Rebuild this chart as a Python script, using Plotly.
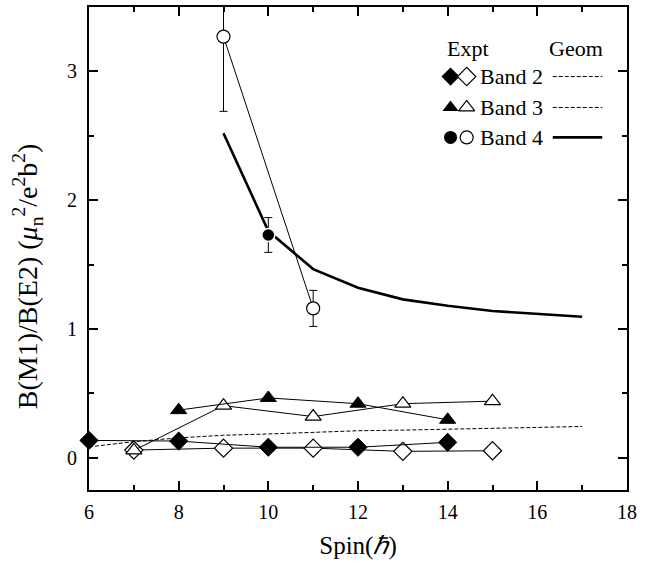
import plotly.graph_objects as go

# ---------------- data ----------------
b2_filled_x = [6, 8, 10, 12, 14]
b2_filled_y = [0.135, 0.13, 0.082, 0.082, 0.12]
b2_open_x = [7, 9, 11, 13, 15]
b2_open_y = [0.06, 0.075, 0.075, 0.05, 0.055]

b3_filled_x = [8, 10, 12, 14]
b3_filled_y = [0.37, 0.465, 0.42, 0.295]
b3_open_x = [7, 9, 11, 13, 15]
b3_open_y = [0.057, 0.405, 0.32, 0.42, 0.44]

b4_filled_x = [10]
b4_filled_y = [1.73]
b4_filled_err = [0.135]
b4_open_x = [9, 11]
b4_open_y = [3.27, 1.16]
b4_open_err_plus = [0.6, 0.14]
b4_open_err_minus = [0.58, 0.14]

geom23_x = [6, 7, 8, 9, 10, 11, 12, 13, 14, 15, 16, 17]
geom23_y = [0.085, 0.125, 0.155, 0.175, 0.185, 0.2, 0.21, 0.215, 0.222, 0.23, 0.237, 0.243]
geom4_x = [9, 10, 11, 12, 13, 14, 15, 16, 17]
geom4_y = [2.52, 1.76, 1.465, 1.32, 1.23, 1.18, 1.14, 1.115, 1.095]

x_ticks = [6, 8, 10, 12, 14, 16, 18]
y_ticks = [0, 1, 2, 3]

FONT = "Liberation Serif"
BLACK = "black"

fig = go.Figure()

# theory curves
fig.add_trace(go.Scatter(x=geom23_x, y=geom23_y, mode="lines",
                         line=dict(color=BLACK, width=1, dash="4px,2px")))
fig.add_trace(go.Scatter(x=geom4_x, y=geom4_y, mode="lines",
                         line=dict(color=BLACK, width=2.6)))

# band 2
fig.add_trace(go.Scatter(x=b2_open_x, y=b2_open_y, mode="lines+markers",
                         line=dict(color=BLACK, width=1),
                         marker=dict(symbol="diamond", size=14, color="white",
                                     line=dict(color=BLACK, width=1.2))))
fig.add_trace(go.Scatter(x=b2_filled_x, y=b2_filled_y, mode="lines+markers",
                         cliponaxis=False,
                         line=dict(color=BLACK, width=1),
                         marker=dict(symbol="diamond", size=14, color=BLACK,
                                     line=dict(color=BLACK, width=1))))
# band 3
fig.add_trace(go.Scatter(x=b3_open_x, y=b3_open_y, mode="lines+markers",
                         line=dict(color=BLACK, width=1),
                         marker=dict(symbol="triangle-up", size=14, color="white",
                                     line=dict(color=BLACK, width=1.2))))
fig.add_trace(go.Scatter(x=b3_filled_x, y=b3_filled_y, mode="lines+markers",
                         line=dict(color=BLACK, width=1),
                         marker=dict(symbol="triangle-up", size=14, color=BLACK,
                                     line=dict(color=BLACK, width=1))))
# band 4
fig.add_trace(go.Scatter(x=b4_open_x, y=b4_open_y, mode="lines+markers",
                         line=dict(color=BLACK, width=1),
                         error_y=dict(type="data", array=b4_open_err_plus,
                                      arrayminus=b4_open_err_minus, color=BLACK,
                                      thickness=1, width=4),
                         marker=dict(symbol="circle", size=13, color="white",
                                     line=dict(color=BLACK, width=1.2))))
fig.add_trace(go.Scatter(x=b4_filled_x, y=b4_filled_y, mode="markers",
                         error_y=dict(type="data", array=b4_filled_err, color=BLACK,
                                      thickness=1, width=4),
                         marker=dict(symbol="circle", size=13, color=BLACK,
                                     line=dict(color="white", width=1.5))))

# ---------------- legend (drawn on an overlay axis in plot fractions) --------
LEG = dict(xaxis="x2", yaxis="y2", showlegend=False, hoverinfo="skip")
leg_rows = [0.856, 0.792, 0.730]
fig.add_trace(go.Scatter(x=[0.672], y=[leg_rows[0]], mode="markers",
                         marker=dict(symbol="diamond", size=14, color=BLACK), **LEG))
fig.add_trace(go.Scatter(x=[0.702], y=[leg_rows[0]], mode="markers",
                         marker=dict(symbol="diamond", size=14, color="white",
                                     line=dict(color=BLACK, width=1.2)), **LEG))
fig.add_trace(go.Scatter(x=[0.672], y=[leg_rows[1]], mode="markers",
                         marker=dict(symbol="triangle-up", size=14, color=BLACK), **LEG))
fig.add_trace(go.Scatter(x=[0.702], y=[leg_rows[1]], mode="markers",
                         marker=dict(symbol="triangle-up", size=14, color="white",
                                     line=dict(color=BLACK, width=1.2)), **LEG))
fig.add_trace(go.Scatter(x=[0.672], y=[leg_rows[2]], mode="markers",
                         marker=dict(symbol="circle", size=13, color=BLACK), **LEG))
fig.add_trace(go.Scatter(x=[0.702], y=[leg_rows[2]], mode="markers",
                         marker=dict(symbol="circle", size=13, color="white",
                                     line=dict(color=BLACK, width=1.2)), **LEG))
for i, (w, d) in enumerate([(1, "4px,2px"), (1, "4px,2px"), (2.6, "solid")]):
    fig.add_trace(go.Scatter(x=[0.862, 0.954], y=[leg_rows[i]] * 2, mode="lines",
                             line=dict(color=BLACK, width=w, dash=d), **LEG))

annotations = [
    dict(text="Expt", x=0.662, y=0.914, xanchor="left", yanchor="middle"),
    dict(text="Geom", x=0.851, y=0.914, xanchor="left", yanchor="middle"),
    dict(text="Band 2", x=0.723, y=leg_rows[0], xanchor="left", yanchor="middle"),
    dict(text="Band 3", x=0.723, y=leg_rows[1], xanchor="left", yanchor="middle"),
    dict(text="Band 4", x=0.723, y=leg_rows[2], xanchor="left", yanchor="middle"),
]
for a in annotations:
    a.update(xref="paper", yref="paper", showarrow=False,
             font=dict(family=FONT, size=22, color=BLACK))
fig.layout.annotations = annotations
fig.add_annotation(
    text="B(M1)/B(E2) (<i>μ</i><sub>n</sub><sup>2</sup>/e<sup>2</sup>b<sup>2</sup>)",
    x=-0.115, y=0.443, xref="paper", yref="paper", textangle=-90, showarrow=False,
    xanchor="center", yanchor="middle", font=dict(family=FONT, size=28, color=BLACK))

axis_common = dict(showgrid=False, zeroline=False, showline=True, linecolor=BLACK,
                   linewidth=2, mirror="ticks", ticks="inside", ticklen=9,
                   tickwidth=1.5, tickcolor=BLACK,
                   tickfont=dict(family=FONT, size=20, color=BLACK))

fig.update_layout(
    width=652, height=570,
    margin=dict(l=89, r=25, t=5, b=80),
    paper_bgcolor="white", plot_bgcolor="white",
    showlegend=False,
    xaxis=dict(range=[6, 18], tickvals=x_ticks, ticktext=[str(v) for v in x_ticks],
               minor=dict(dtick=1, ticks="inside", ticklen=5, tickwidth=1.5, tickcolor=BLACK),
               title=dict(text="Spin(<i>ℏ</i>)", standoff=14,
                          font=dict(family=FONT, size=25, color=BLACK)),
               ticklabelstandoff=3, **axis_common),
    yaxis=dict(range=[-0.25, 3.5], tickvals=y_ticks, ticktext=[str(v) for v in y_ticks],
               minor=dict(dtick=0.5, ticks="inside", ticklen=5, tickwidth=1.5, tickcolor=BLACK),
               ticklabelstandoff=6, **axis_common),
    xaxis2=dict(range=[0, 1], overlaying="x", anchor="y2", visible=False, fixedrange=True),
    yaxis2=dict(range=[0, 1], overlaying="y", anchor="x2", visible=False, fixedrange=True),
)

fig.write_html("out.html", config={"displayModeBar": False},
               post_script="document.body.style.margin='0px';document.body.style.padding='0px';")
